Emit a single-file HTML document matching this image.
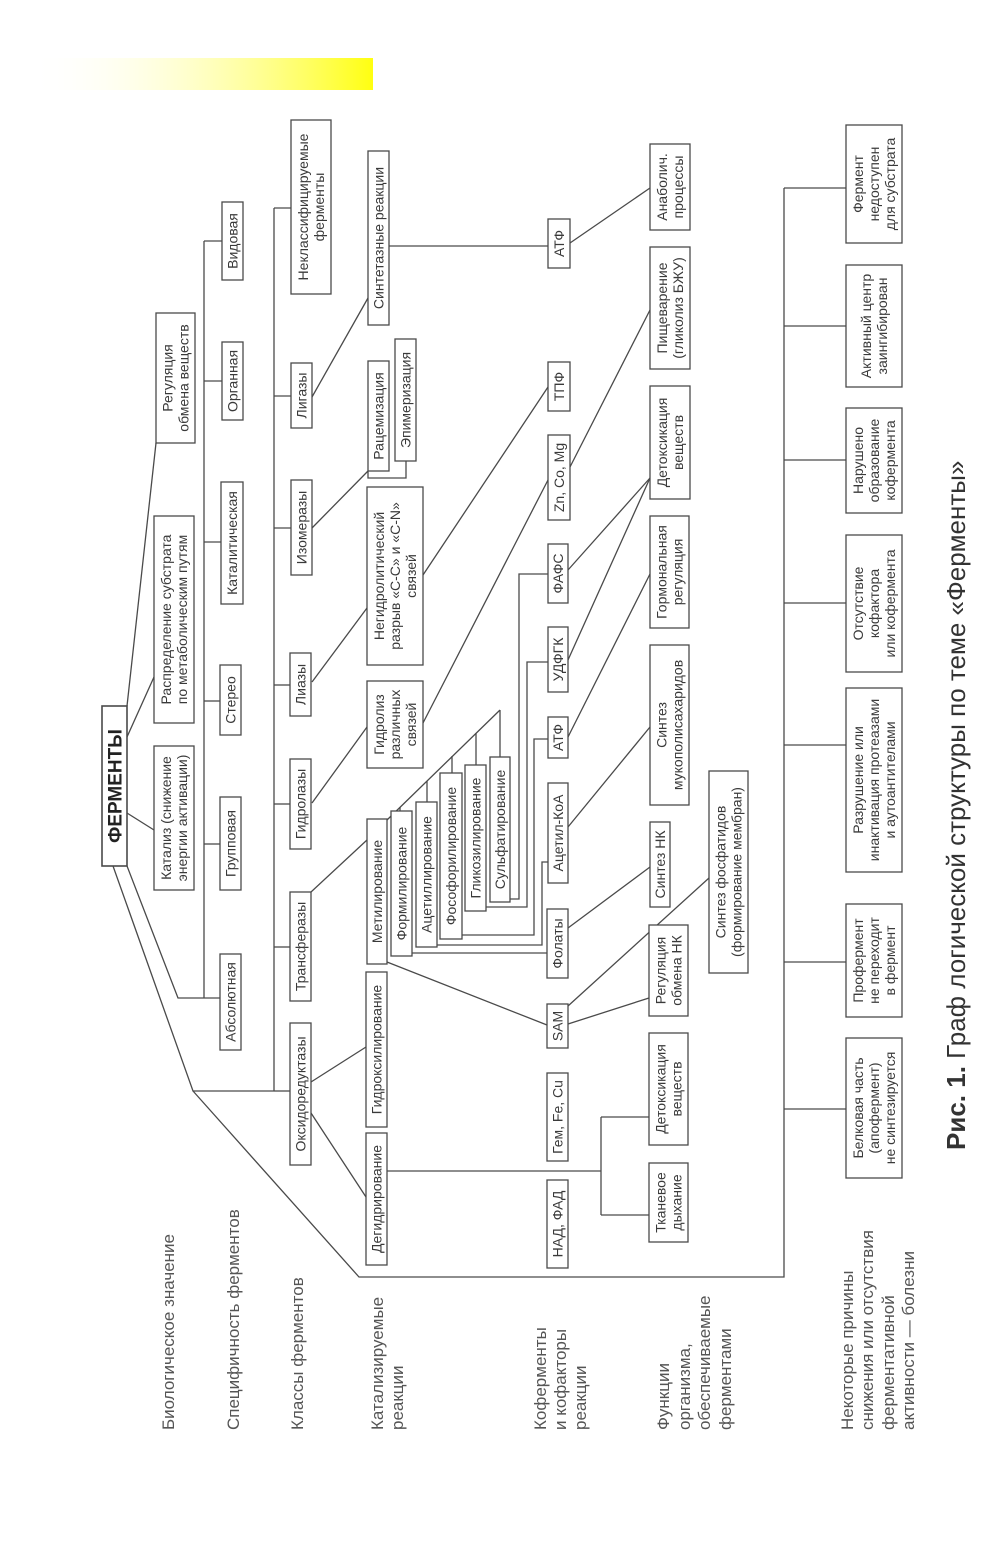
<!DOCTYPE html>
<html><head><meta charset="utf-8"><style>
html,body{margin:0;padding:0;background:#fff;}
svg{display:block;font-family:"Liberation Sans",sans-serif;}
.b{fill:#fff;stroke:#4a4a4a;stroke-width:1.3;}
.l{fill:none;stroke:#4a4a4a;stroke-width:1.3;}
.t{font-size:14px;fill:#3a3a3a;text-anchor:middle;}
.lab{font-size:17px;fill:#555;}
</style></head><body>
<svg width="1000" height="1545" viewBox="0 0 1000 1545" xmlns="http://www.w3.org/2000/svg">
<defs><linearGradient id="g" x1="0" x2="1" y1="0" y2="0"><stop offset="0" stop-color="#fff" stop-opacity="0"/><stop offset="1" stop-color="#ffff10"/></linearGradient></defs>
<rect x="30" y="58" width="343" height="32" fill="url(#g)"/>

<g class="l">
<polyline points="127,813 154,830"/>
<polyline points="127,737 154,677"/>
<polyline points="127,706 156,443"/>
<polyline points="113,866 193,1091 274,1091"/>
<polyline points="274,1091 274,208"/>
<polyline points="274,208 291,208"/><polyline points="274,396 291,396"/><polyline points="274,528 291,528"/><polyline points="274,685 290,685"/><polyline points="274,804 290,804"/><polyline points="274,947 290,947"/><polyline points="274,1091 290,1091"/>
<polyline points="193,1091 359,1277 784,1277 784,188"/>
<polyline points="784,188 846,188"/><polyline points="784,326 846,326"/><polyline points="784,460 846,460"/><polyline points="784,603 846,603"/><polyline points="784,745 846,745"/><polyline points="784,962 846,962"/><polyline points="784,1109 846,1109"/>
<polyline points="127,866 178,998 220,998"/>
<polyline points="204,998 204,241"/>
<polyline points="204,241 222,241"/><polyline points="204,381 222,381"/><polyline points="204,542 221,542"/><polyline points="204,701 220,701"/><polyline points="204,844 220,844"/>
<polyline points="312,397 368,298"/>
<polyline points="389,246 548,246"/>
<polyline points="570,243 650,188"/>
<polyline points="312,528 368,471"/>
<polyline points="368,471 368,478 406,478 406,461"/>
<polyline points="312,682 367,608"/>
<polyline points="423,575 548,387"/>
<polyline points="312,803 367,727"/>
<polyline points="423,723 548,480"/>
<polyline points="570,467 650,310"/>
<polyline points="311,892 367,840"/>
<polyline points="387,820 500,710"/>
<polyline points="500,710 500,757"/><polyline points="476,733 476,765"/><polyline points="452,756 452,773"/><polyline points="427,781 427,802"/><polyline points="400,807 400,811"/>
<polyline points="510,899 519,899 519,574 548,574"/>
<polyline points="486,907 527,907 527,662 548,662"/>
<polyline points="462,935 534,935 534,739 548,739"/>
<polyline points="437,945 542,945 542,862 548,862"/>
<polyline points="412,953 547,953"/>
<polyline points="568,570 650,478"/><polyline points="568,660 650,478"/>
<polyline points="568,737 650,574"/>
<polyline points="568,827 650,727"/>
<polyline points="568,928 650,867"/>
<polyline points="387,962 547,1025"/>
<polyline points="568,1006 709,878"/>
<polyline points="568,1024 649,998"/>
<polyline points="387,1171 601,1171"/>
<polyline points="601,1117 601,1215"/><polyline points="601,1117 649,1117"/><polyline points="601,1215 649,1215"/>
<polyline points="311,1082 366,1047"/>
<polyline points="311,1113 366,1197"/>
</g>

<g class="b">
<rect x="102" y="706" width="25" height="160" stroke-width="1.6"/>
<rect x="154" y="746" width="40" height="144"/>
<rect x="154" y="516" width="40" height="207"/>
<rect x="156" y="313" width="39" height="130"/>
<rect x="220" y="954" width="21" height="96"/>
<rect x="220" y="797" width="21" height="93"/>
<rect x="220" y="665" width="21" height="70"/>
<rect x="221" y="482" width="22" height="122"/>
<rect x="222" y="342" width="21" height="78"/>
<rect x="222" y="202" width="21" height="78"/>
<rect x="290" y="1023" width="21" height="142"/>
<rect x="290" y="892" width="21" height="109"/>
<rect x="290" y="759" width="21" height="90"/>
<rect x="290" y="653" width="21" height="63"/>
<rect x="291" y="480" width="21" height="95"/>
<rect x="291" y="363" width="21" height="65"/>
<rect x="291" y="120" width="40" height="174"/>
<rect x="366" y="1133" width="21" height="132"/>
<rect x="366" y="972" width="21" height="155"/>
<rect x="367" y="819" width="20" height="145"/>
<rect x="391" y="811" width="21" height="145"/>
<rect x="416" y="802" width="21" height="145"/>
<rect x="440" y="773" width="22" height="166"/>
<rect x="465" y="765" width="21" height="146"/>
<rect x="490" y="757" width="20" height="145"/>
<rect x="367" y="681" width="56" height="87"/>
<rect x="367" y="487" width="56" height="178"/>
<rect x="368" y="361" width="21" height="110"/>
<rect x="395" y="339" width="21" height="122"/>
<rect x="368" y="151" width="21" height="174"/>
<rect x="547" y="1180" width="21" height="88"/>
<rect x="547" y="1073" width="21" height="88"/>
<rect x="547" y="1004" width="21" height="44"/>
<rect x="547" y="909" width="21" height="69"/>
<rect x="548" y="783" width="20" height="100"/>
<rect x="548" y="717" width="20" height="41"/>
<rect x="548" y="627" width="20" height="65"/>
<rect x="548" y="544" width="20" height="59"/>
<rect x="548" y="435" width="22" height="85"/>
<rect x="548" y="362" width="22" height="49"/>
<rect x="548" y="219" width="22" height="49"/>
<rect x="650" y="144" width="40" height="86"/>
<rect x="650" y="247" width="40" height="122"/>
<rect x="650" y="386" width="40" height="113"/>
<rect x="650" y="516" width="39" height="112"/>
<rect x="650" y="645" width="39" height="160"/>
<rect x="650" y="822" width="20" height="85"/>
<rect x="649" y="925" width="39" height="91"/>
<rect x="649" y="1033" width="39" height="112"/>
<rect x="649" y="1163" width="39" height="79"/>
<rect x="709" y="771" width="39" height="202"/>
<rect x="846" y="125" width="56" height="118"/>
<rect x="846" y="265" width="56" height="122"/>
<rect x="846" y="408" width="56" height="105"/>
<rect x="846" y="535" width="56" height="137"/>
<rect x="846" y="688" width="56" height="184"/>
<rect x="846" y="904" width="56" height="113"/>
<rect x="846" y="1038" width="56" height="140"/>
</g>

<g class="t">
<text transform="translate(114.5,786) rotate(-90)" dy="7" style="font-size:19px;font-weight:bold;fill:#222">ФЕРМЕНТЫ</text>
<text transform="translate(174,818) rotate(-90)"><tspan x="0" y="-3">Катализ (снижение</tspan><tspan x="0" y="13">энергии активации)</tspan></text>
<text transform="translate(174,619.5) rotate(-90)"><tspan x="0" y="-3">Распределение субстрата</tspan><tspan x="0" y="13">по метаболическим путям</tspan></text>
<text transform="translate(175.5,378) rotate(-90)"><tspan x="0" y="-3">Регуляция</tspan><tspan x="0" y="13">обмена веществ</tspan></text>
<text transform="translate(230.5,1002) rotate(-90)" dy="5">Абсолютная</text>
<text transform="translate(230.5,843.5) rotate(-90)" dy="5">Групповая</text>
<text transform="translate(230.5,700) rotate(-90)" dy="5">Стерео</text>
<text transform="translate(232,543) rotate(-90)" dy="5">Каталитическая</text>
<text transform="translate(232.5,381) rotate(-90)" dy="5">Органная</text>
<text transform="translate(232.5,241) rotate(-90)" dy="5">Видовая</text>
<text transform="translate(300.5,1094) rotate(-90)" dy="5">Оксидоредуктазы</text>
<text transform="translate(300.5,946.5) rotate(-90)" dy="5">Трансферазы</text>
<text transform="translate(300.5,804) rotate(-90)" dy="5">Гидролазы</text>
<text transform="translate(300.5,684.5) rotate(-90)" dy="5">Лиазы</text>
<text transform="translate(301.5,527.5) rotate(-90)" dy="5">Изомеразы</text>
<text transform="translate(301.5,395.5) rotate(-90)" dy="5">Лигазы</text>
<text transform="translate(311,207) rotate(-90)"><tspan x="0" y="-3">Неклассифицируемые</tspan><tspan x="0" y="13">ферменты</tspan></text>
<text transform="translate(376.5,1199) rotate(-90)" dy="5">Дегидрирование</text>
<text transform="translate(376.5,1049.5) rotate(-90)" dy="5">Гидроксилирование</text>
<text transform="translate(377,891.5) rotate(-90)" dy="5">Метилирование</text>
<text transform="translate(401.5,883.5) rotate(-90)" dy="5">Формилирование</text>
<text transform="translate(426.5,874.5) rotate(-90)" dy="5">Ацетиллирование</text>
<text transform="translate(451,856) rotate(-90)" dy="5">Фософорилирование</text>
<text transform="translate(475.5,838) rotate(-90)" dy="5">Гликозилирование</text>
<text transform="translate(500,829.5) rotate(-90)" dy="5">Сульфатирование</text>
<text transform="translate(395,724.5) rotate(-90)"><tspan x="0" y="-11">Гидролиз</tspan><tspan x="0" y="5">различных</tspan><tspan x="0" y="21">связей</tspan></text>
<text transform="translate(395,576) rotate(-90)"><tspan x="0" y="-11">Негидролитический</tspan><tspan x="0" y="5">разрыв «С-С» и «С-N»</tspan><tspan x="0" y="21">связей</tspan></text>
<text transform="translate(378.5,416) rotate(-90)" dy="5">Рацемизация</text>
<text transform="translate(405.5,400) rotate(-90)" dy="5">Эпимеризация</text>
<text transform="translate(378.5,238) rotate(-90)" dy="5">Синтетазные реакции</text>
<text transform="translate(557.5,1224) rotate(-90)" dy="5">НАД, ФАД</text>
<text transform="translate(557.5,1117) rotate(-90)" dy="5">Гем, Fe, Cu</text>
<text transform="translate(557.5,1026) rotate(-90)" dy="5">SAM</text>
<text transform="translate(557.5,943.5) rotate(-90)" dy="5">Фолаты</text>
<text transform="translate(558,833) rotate(-90)" dy="5">Ацетил-КоА</text>
<text transform="translate(558,737.5) rotate(-90)" dy="5">АТФ</text>
<text transform="translate(558,659.5) rotate(-90)" dy="5">УДФГК</text>
<text transform="translate(558,573.5) rotate(-90)" dy="5">ФАФС</text>
<text transform="translate(559,477.5) rotate(-90)" dy="5">Zn, Co, Mg</text>
<text transform="translate(559,386.5) rotate(-90)" dy="5">ТПФ</text>
<text transform="translate(559,243.5) rotate(-90)" dy="5">АТФ</text>
<text transform="translate(670,187) rotate(-90)"><tspan x="0" y="-3">Анаболич.</tspan><tspan x="0" y="13">процессы</tspan></text>
<text transform="translate(670,308) rotate(-90)"><tspan x="0" y="-3">Пищеварение</tspan><tspan x="0" y="13">(гликолиз БЖУ)</tspan></text>
<text transform="translate(670,442.5) rotate(-90)"><tspan x="0" y="-3">Детоксикация</tspan><tspan x="0" y="13">веществ</tspan></text>
<text transform="translate(669.5,572) rotate(-90)"><tspan x="0" y="-3">Гормональная</tspan><tspan x="0" y="13">регуляция</tspan></text>
<text transform="translate(669.5,725) rotate(-90)"><tspan x="0" y="-3">Синтез</tspan><tspan x="0" y="13">мукополисахаридов</tspan></text>
<text transform="translate(660,864.5) rotate(-90)" dy="5">Синтез НК</text>
<text transform="translate(668.5,970.5) rotate(-90)"><tspan x="0" y="-3">Регуляция</tspan><tspan x="0" y="13">обмена НК</tspan></text>
<text transform="translate(668.5,1089) rotate(-90)"><tspan x="0" y="-3">Детоксикация</tspan><tspan x="0" y="13">веществ</tspan></text>
<text transform="translate(668.5,1202.5) rotate(-90)"><tspan x="0" y="-3">Тканевое</tspan><tspan x="0" y="13">дыхание</tspan></text>
<text transform="translate(728.5,872) rotate(-90)"><tspan x="0" y="-3">Синтез фосфатидов</tspan><tspan x="0" y="13">(формирование мембран)</tspan></text>
<text transform="translate(874,184) rotate(-90)"><tspan x="0" y="-11">Фермент</tspan><tspan x="0" y="5">недоступен</tspan><tspan x="0" y="21">для субстрата</tspan></text>
<text transform="translate(874,326) rotate(-90)"><tspan x="0" y="-3">Активный центр</tspan><tspan x="0" y="13">заингибирован</tspan></text>
<text transform="translate(874,460.5) rotate(-90)"><tspan x="0" y="-11">Нарушено</tspan><tspan x="0" y="5">образование</tspan><tspan x="0" y="21">кофермента</tspan></text>
<text transform="translate(874,603.5) rotate(-90)"><tspan x="0" y="-11">Отсутствие</tspan><tspan x="0" y="5">кофактора</tspan><tspan x="0" y="21">или кофермента</tspan></text>
<text transform="translate(874,780) rotate(-90)"><tspan x="0" y="-11">Разрушение или</tspan><tspan x="0" y="5">инактивация протеазами</tspan><tspan x="0" y="21">и аутоантителами</tspan></text>
<text transform="translate(874,960.5) rotate(-90)"><tspan x="0" y="-11">Профермент</tspan><tspan x="0" y="5">не переходит</tspan><tspan x="0" y="21">в фермент</tspan></text>
<text transform="translate(874,1108) rotate(-90)"><tspan x="0" y="-11">Белковая часть</tspan><tspan x="0" y="5">(апофермент)</tspan><tspan x="0" y="21">не синтезируется</tspan></text>
</g>

<g class="lab">
<text transform="translate(174,1430) rotate(-90)">Биологическое значение</text>
<text transform="translate(239,1430) rotate(-90)">Специфичность ферментов</text>
<text transform="translate(303,1430) rotate(-90)">Классы ферментов</text>
<text transform="translate(383,1430) rotate(-90)">Катализируемые</text>
<text transform="translate(403,1430) rotate(-90)">реакции</text>
<text transform="translate(546,1430) rotate(-90)">Коферменты</text>
<text transform="translate(566,1430) rotate(-90)">и кофакторы</text>
<text transform="translate(586,1430) rotate(-90)">реакции</text>
<text transform="translate(669,1430) rotate(-90)">Функции</text>
<text transform="translate(690,1430) rotate(-90)">организма,</text>
<text transform="translate(710,1430) rotate(-90)">обеспечиваемые</text>
<text transform="translate(731,1430) rotate(-90)">ферментами</text>
<text transform="translate(853,1430) rotate(-90)">Некоторые причины</text>
<text transform="translate(873,1430) rotate(-90)">снижения или отсутствия</text>
<text transform="translate(894,1430) rotate(-90)">ферментативной</text>
<text transform="translate(914,1430) rotate(-90)">активности — болезни</text>
</g>

<text transform="translate(965,1150) rotate(-90)" style="font-size:26px;fill:#333"><tspan font-weight="bold">Рис. 1.</tspan> Граф логической структуры по теме «Ферменты»</text>
</svg>
</body></html>
